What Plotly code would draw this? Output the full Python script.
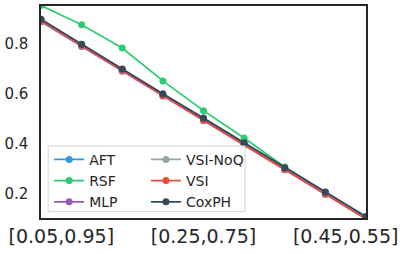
import plotly.graph_objects as go

x_labels = ["[0.05,0.95]", "[0.10,0.90]", "[0.15,0.85]", "[0.20,0.80]", "[0.25,0.75]",
            "[0.30,0.70]", "[0.35,0.65]", "[0.40,0.60]", "[0.45,0.55]"]
tick_pos = [0.5, 4, 7.5]
tick_text = ["[0.05,0.95]", "[0.25,0.75]", "[0.45,0.55]"]

aft = [0.893, 0.794, 0.695, 0.596, 0.497, 0.398, 0.299, 0.201, 0.102]
rsf = [0.955, 0.878, 0.785, 0.653, 0.534, 0.424, 0.308, 0.207, 0.105]
mlp = [0.890, 0.791, 0.692, 0.593, 0.494, 0.396, 0.297, 0.199, 0.101]
vsi_noq = [0.894, 0.795, 0.696, 0.597, 0.498, 0.399, 0.300, 0.202, 0.103]
vsi = [0.895, 0.796, 0.697, 0.595, 0.495, 0.397, 0.300, 0.200, 0.101]
coxph = [0.900, 0.800, 0.701, 0.602, 0.504, 0.405, 0.305, 0.208, 0.110]

series = [
    ("AFT", aft, "#3498db", 1, "legend"),
    ("RSF", rsf, "#2ecc71", 2, "legend"),
    ("MLP", mlp, "#9b59b6", 3, "legend"),
    ("VSI-NoQ", vsi_noq, "#95a5a6", 1, "legend2"),
    ("VSI", vsi, "#e74c3c", 2, "legend2"),
    ("CoxPH", coxph, "#34495e", 3, "legend2"),
]

xs = list(range(len(x_labels)))
fig = go.Figure()
for name, vals, color, rank, leg in series:
    fig.add_trace(go.Scatter(
        x=xs, y=vals, name=name, mode="lines+markers",
        line=dict(color=color, width=1.8),
        marker=dict(color=color, size=7),
        legend=leg, legendrank=rank,
    ))

fig.add_shape(type="rect", xref="paper", yref="paper",
              x0=0.022, x1=0.628, y0=0.03, y1=0.34,
              line=dict(color="#d5d5d5", width=1),
              fillcolor="rgba(255,255,255,0.85)", layer="above")

legend_common = dict(
    font=dict(family="DejaVu Sans", size=14, color="#262626"),
    bgcolor="rgba(0,0,0,0)", borderwidth=0,
    tracegroupgap=0, itemwidth=30,
    xanchor="left", yanchor="top",
)

fig.update_layout(
    width=407, height=254,
    margin=dict(l=41, r=41, t=6, b=36, autoexpand=False),
    paper_bgcolor="white", plot_bgcolor="white",
    font=dict(family="DejaVu Sans", color="#262626"),
    legend=dict(x=0.025, y=0.35, **legend_common),
    legend2=dict(x=0.323, y=0.35, **legend_common),
    xaxis=dict(
        range=[0, 8], tickvals=tick_pos, ticktext=tick_text,
        tickfont=dict(size=19, color="#262626"),
        showgrid=False, zeroline=False, showline=True, mirror=True,
        linecolor="#262626", linewidth=1.5, ticks="", automargin=False,
        ticklabeloverflow="allow",
    ),
    yaxis=dict(
        range=[0.104, 0.953], tickvals=[0.2, 0.4, 0.6, 0.8],
        ticktext=["0.2", "0.4", "0.6", "0.8"],
        tickfont=dict(size=15, color="#262626"),
        showgrid=False, zeroline=False, showline=True, mirror=True,
        linecolor="#262626", linewidth=1.5, ticks="", automargin=False,
        ticklabelstandoff=8,
    ),
)

fig.write_html("out.html", config={"displayModeBar": False},
               post_script="document.body.style.margin='0';")
